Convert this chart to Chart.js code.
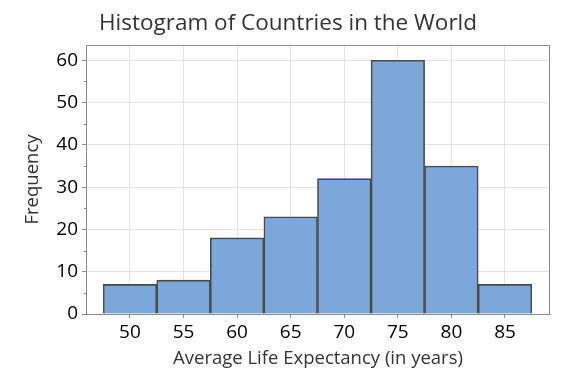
<!DOCTYPE html>
<html>
<head>
<meta charset="utf-8">
<script src="https://cdn.jsdelivr.net/npm/chart.js@4"></script>
<style>
  html, body { margin: 0; padding: 0; background: #fff; }
  #wrap { width: 576px; height: 384px; }
</style>
</head>
<body>
<div id="wrap"><canvas id="hist"></canvas></div>
<script>
// Histogram data
const binCenters = [50, 55, 60, 65, 70, 75, 80, 85];
const frequencies = [7, 8, 18, 23, 32, 60, 35, 7];
const xTicks = [50, 55, 60, 65, 70, 75, 80, 85];
const yTicks = [0, 10, 20, 30, 40, 50, 60];
const yMinorTicks = [5, 15, 25, 35, 45, 55];

const FONT = '"Open Sans", "Noto Sans", sans-serif';

// frame around the plot area + minor ticks on the y axis
const framePlugin = {
  id: 'frame',
  afterDraw: function(chart) {
    const ctx = chart.ctx;
    const a = chart.chartArea;
    const y = chart.scales.y;
    ctx.save();
    ctx.strokeStyle = '#8a8a8a';
    ctx.lineWidth = 1;
    ctx.strokeRect(a.left + 0.5, a.top + 0.5, a.right - a.left - 1, a.bottom - a.top);
    ctx.beginPath();
    yMinorTicks.forEach(function(v) {
      const py = Math.round(y.getPixelForValue(v)) + 0.5;
      ctx.moveTo(a.left - 2, py);
      ctx.lineTo(a.left, py);
    });
    ctx.stroke();
    ctx.restore();
  }
};

const ctx = document.getElementById('hist').getContext('2d');
new Chart(ctx, {
  type: 'bar',
  data: {
    datasets: [{
      label: 'Frequency',
      data: binCenters.map(function(c, i) { return { x: c, y: frequencies[i] }; }),
      backgroundColor: '#7ba7d9',
      borderColor: '#4a4a4a',
      borderWidth: 1.6,
      barPercentage: 1,
      categoryPercentage: 1,
    }],
  },
  options: {
    responsive: true,
    maintainAspectRatio: false,
    animation: false,
    layout: { padding: 0 },
    scales: {
      x: {
        type: 'linear',
        offset: false,
        min: 45.9,
        max: 89.2,
        afterBuildTicks: function(scale) {
          scale.ticks = xTicks.map(function(v) { return { value: v }; });
        },
        afterFit: function(scale) { scale.height = 70; },
        grid: { offset: false, color: '#e3e3e3', tickColor: '#8a8a8a', tickLength: 4 },
        border: { color: '#8a8a8a' },
        ticks: { color: '#000', padding: 3, font: { family: FONT, size: 19 } },
        title: {
          display: true,
          text: 'Average Life Expectancy (in years)',
          color: '#333',
          font: { family: FONT, size: 18.5 },
          padding: { top: 0, bottom: 14 },
        },
      },
      y: {
        min: 0,
        max: 63.6,
        afterBuildTicks: function(scale) {
          scale.ticks = yTicks.map(function(v) { return { value: v }; });
        },
        afterFit: function(scale) { scale.width = 86; },
        grid: { color: '#e3e3e3', tickColor: '#8a8a8a', tickLength: 4 },
        border: { color: '#8a8a8a' },
        ticks: { color: '#000', padding: 4, font: { family: FONT, size: 19 } },
        title: {
          display: true,
          text: 'Frequency',
          color: '#333',
          font: { family: FONT, size: 18.5 },
          padding: { top: 22, bottom: 0 },
        },
      },
      // empty right margin so the title centres on the whole canvas
      yRight: {
        position: 'right',
        display: true,
        min: 0,
        max: 63.6,
        grid: { display: false, drawTicks: false },
        border: { display: false },
        ticks: { display: false },
        afterFit: function(scale) { scale.width = 26; },
      },
    },
    plugins: {
      legend: { display: false },
      tooltip: { enabled: false },
      title: {
        display: true,
        text: 'Histogram of Countries in the World',
        color: '#333',
        font: { family: FONT, size: 22.5, weight: 'normal' },
        padding: { top: 10, bottom: 8 },
      },
    },
  },
  plugins: [framePlugin],
});
</script>
</body>
</html>
